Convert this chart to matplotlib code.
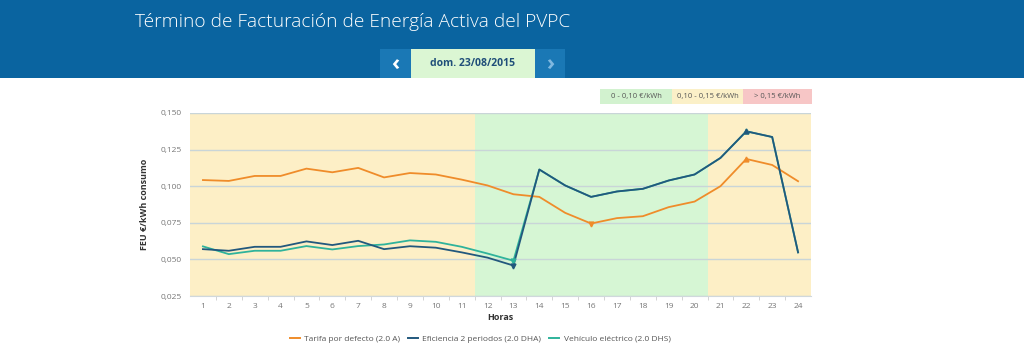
import numpy as np
import matplotlib
matplotlib.use("Agg")
import matplotlib.pyplot as plt
from matplotlib.patches import Rectangle
from matplotlib.ticker import FuncFormatter, MultipleLocator

plt.rcParams['font.family'] = ['Open Sans', 'DejaVu Sans']

# Hourly values (€/kWh)
hours = list(range(1, 25))
tarifa_2_0a = [0.1042, 0.1036, 0.1070, 0.1070, 0.1120, 0.1095, 0.1125, 0.1060,
               0.1090, 0.1080, 0.1045, 0.1005, 0.0945, 0.0927, 0.0818, 0.0745,
               0.0782, 0.0795, 0.0857, 0.0895, 0.1000, 0.1186, 0.1145, 0.1034]
eficiencia_2_0dha = [0.0570, 0.0559, 0.0586, 0.0586, 0.0623, 0.0598, 0.0627, 0.0570,
                     0.0590, 0.0580, 0.0548, 0.0512, 0.0458, 0.1114, 0.1005, 0.0927,
                     0.0964, 0.0982, 0.1039, 0.1080, 0.1193, 0.1375, 0.1336, 0.0548]
vehiculo_2_0dhs = [0.0589, 0.0536, 0.0559, 0.0559, 0.0591, 0.0568, 0.0591, 0.0602,
                   0.0630, 0.0620, 0.0586, 0.0540, 0.0491, 0.1114, 0.1005, 0.0927,
                   0.0964, 0.0982, 0.1039, 0.1080, 0.1193, 0.1375, 0.1336, 0.0548]
series_names = ["Tarifa por defecto (2.0 A)", "Eficiencia 2 periodos (2.0 DHA)",
                "Vehículo eléctrico (2.0 DHS)"]

# price band background per hour range
bands = [(0.5, 11.5, "#fdefc6"), (11.5, 20.5, "#d6f6d4"), (20.5, 24.5, "#fdefc6")]
band_labels = ["0 - 0,10 €/kWh", "0,10 - 0,15 €/kWh", "> 0,15 €/kWh"]
band_colors = ["#d2f2cf", "#fbf0c8", "#f7c6c6"]

W, H = 1024, 359
fig = plt.figure(figsize=(W / 100, H / 100), dpi=100)
fig.patch.set_facecolor("white")


def fx(px):
    return px / W


def fy(py):
    return 1 - py / H


# header band
fig.patches.append(Rectangle((0, fy(78)), 1, 78 / H, transform=fig.transFigure,
                             facecolor="#0a64a0", edgecolor="none", zorder=0))
fig.text(fx(135), fy(22), "Término de Facturación de Energía Activa del PVPC",
         color="white", fontsize=13.8, fontweight="light", va="center", ha="left")

# date navigator
fig.patches.append(Rectangle((fx(380), fy(78)), 31 / W, 29 / H, transform=fig.transFigure,
                             facecolor="#1a78b5", edgecolor="none"))
fig.patches.append(Rectangle((fx(411), fy(78)), 124 / W, 29 / H, transform=fig.transFigure,
                             facecolor="#dbf6d3", edgecolor="none"))
fig.patches.append(Rectangle((fx(535), fy(78)), 30 / W, 29 / H, transform=fig.transFigure,
                             facecolor="#1a78b5", edgecolor="none"))
fig.text(fx(395.5), fy(64), "‹", color="white", fontsize=16, fontweight="bold",
         ha="center", va="center")
fig.text(fx(550), fy(64), "›", color="#7fb8e0", fontsize=16, fontweight="bold",
         ha="center", va="center")
fig.text(fx(473), fy(64), "dom. 23/08/2015", color="#1f4e79", fontsize=7.5,
         fontweight="bold", ha="center", va="center")

# band legend boxes
box_x = [600, 672, 743, 812]
for i, (lab, col) in enumerate(zip(band_labels, band_colors)):
    x0, x1 = box_x[i], box_x[i + 1]
    fig.patches.append(Rectangle((fx(x0), fy(104)), (x1 - x0) / W, 15 / H,
                                 transform=fig.transFigure, facecolor=col,
                                 edgecolor="none"))
    fig.text(fx((x0 + x1) / 2), fy(96.5), lab, color="#555555", fontsize=5.5,
             ha="center", va="center")

ax = fig.add_axes([fx(190), fy(296), fx(811) - fx(190), fy(113) - fy(296)])
for x0, x1, c in bands:
    ax.axvspan(x0, x1, color=c, zorder=0, lw=0)

ax.set_xlim(0.5, 24.5)
ax.set_ylim(0.025, 0.150)
ax.yaxis.set_major_locator(MultipleLocator(0.025))
ax.yaxis.set_major_formatter(FuncFormatter(lambda v, p: f"{v:.3f}".replace(".", ",")))
ax.grid(axis="y", color="#c9d5d8", lw=1, zorder=1)
ax.set_xticks(hours)
ax.set_xticks(np.arange(1.5, 24, 1), minor=True)
ax.tick_params(axis="x", which="major", length=0, labelsize=6, colors="#777777", pad=5)
ax.tick_params(axis="x", which="minor", length=3, color="#cccccc")
ax.tick_params(axis="y", length=0, labelsize=6, colors="#777777", pad=6)
for s in ["top", "right", "left"]:
    ax.spines[s].set_visible(False)
ax.spines["bottom"].set_color("#d0d8dc")

c_or, c_bl, c_gr = "#ef8c2a", "#22587d", "#2fb39b"
ax.plot(hours, vehiculo_2_0dhs, color=c_gr, lw=1.3, zorder=3)
ax.plot(hours, tarifa_2_0a, color=c_or, lw=1.3, zorder=3)
ax.plot(hours, eficiencia_2_0dha, color=c_bl, lw=1.3, zorder=4)

# min / max markers
for vals, col, z in [(tarifa_2_0a, c_or, 5), (eficiencia_2_0dha, c_bl, 6), (vehiculo_2_0dhs, c_gr, 5)]:
    imin, imax = int(np.argmin(vals)), int(np.argmax(vals))
    ax.plot(hours[imin], vals[imin], marker="v", color=col, ms=3.5, zorder=z)
    ax.plot(hours[imax], vals[imax], marker="^", color=col, ms=3.5, zorder=z)

ax.set_xlabel("Horas", fontsize=6.5, fontweight="bold", color="#333333", labelpad=2)
ax.set_ylabel("FEU €/kWh consumo", fontsize=6.5, fontweight="bold", color="#333333",
              labelpad=8)

handles = [plt.Line2D([], [], color=c, lw=1.4) for c in (c_or, c_bl, c_gr)]
fig.legend(handles, series_names, loc="center", bbox_to_anchor=(fx(480), fy(339)),
           ncol=3, frameon=False, fontsize=6, handlelength=1.2, handletextpad=0.5,
           columnspacing=1.0, labelcolor="#555555")

fig.savefig("out.png", dpi=100)
